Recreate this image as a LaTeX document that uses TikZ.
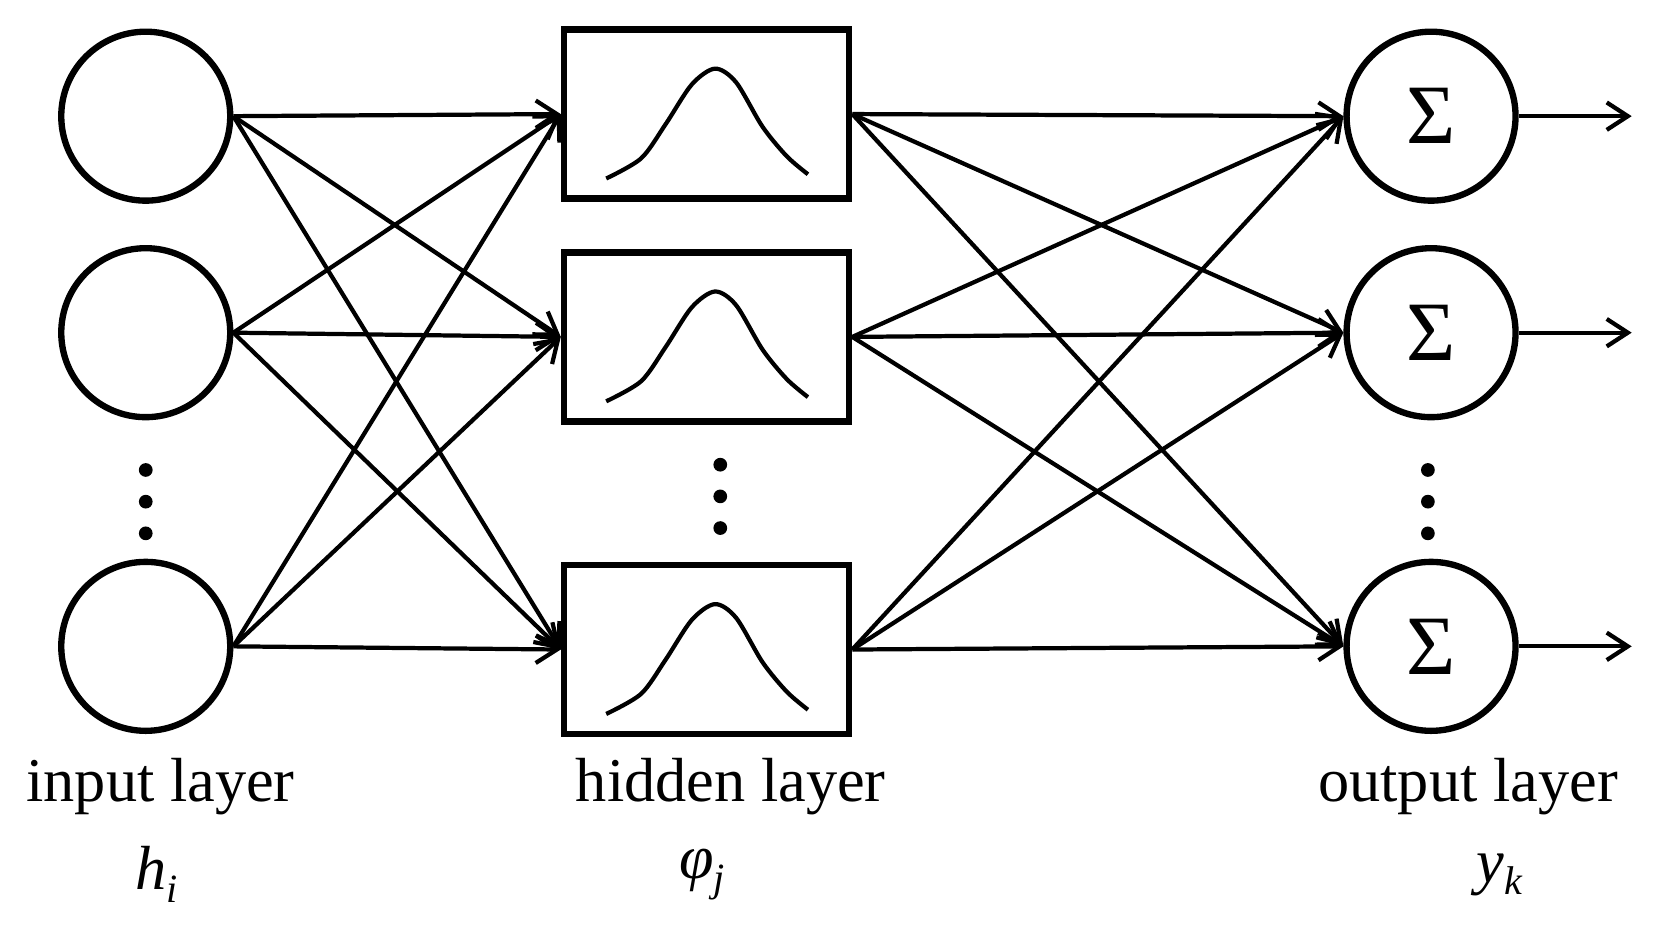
\documentclass[tikz,border=0pt]{standalone}
\usepackage{fontspec}
\setmainfont{Liberation Serif}
\usetikzlibrary{arrows.meta}
\newcommand{\mysub}[2]{{\itshape #1}\raisebox{-12pt}{\fontsize{38}{40}\selectfont\itshape #2}}
\begin{document}
\begin{tikzpicture}[x=1pt,y=-1pt,line width=6pt,
  inp/.style={circle,draw,minimum size=160pt,inner sep=0pt},
  hid/.style={draw,minimum width=270pt,minimum height=160pt,inner sep=0pt},
  con/.style={line width=4pt,-{Straight Barb[length=20pt,width=26pt,line width=4pt]}},
  lbl/.style={font=\fontsize{59}{66}\selectfont},
  dot/.style={circle,fill,inner sep=0pt,minimum size=13pt}]
\useasboundingbox (0,0) rectangle (1568,880);
\foreach \n/\y in {1/110,2/315,3/612}{
  \node[inp] (i\n) at (138,\y) {};
  \node[inp] (o\n) at (1355,\y) {\fontsize{80}{80}\selectfont Σ};
  \coordinate (e\n) at (1545,\y);
  \draw[con] (o\n.east) -- (e\n);
}
\foreach \n/\y in {1/108,2/319,3/615}{
  \node[hid] (h\n) at (669,\y) {};
  \draw[line width=4pt,line join=round] plot[smooth] coordinates {
    ([shift={(-95,61)}]h\n.center) ([shift={(-62,42)}]h\n.center)
    ([shift={(-39,10)}]h\n.center) ([shift={(-14,-28)}]h\n.center)
    ([shift={(8,-43)}]h\n.center) ([shift={(28,-30)}]h\n.center)
    ([shift={(53,12)}]h\n.center) ([shift={(76,40)}]h\n.center)
    ([shift={(96,57)}]h\n.center)};
}
\foreach \a in {1,2,3}{\foreach \b in {1,2,3}{
  \draw[con] (i\a.east) -- (h\b.west);
  \draw[con] (h\a.east) -- (o\b.west);
}}
\foreach \y [count=\k] in {445,475,505}{
  \node[dot] (di\k) at (138,\y) {};
  \node[dot] (dh\k) at (682,\y-5) {};
  \node[dot] (do\k) at (1352,\y) {};
}
\node[lbl] (l1) at (152,745) {input layer};
\node[lbl] (l2) at (692,745) {hidden layer};
\node[lbl] (l3) at (1390,745) {output layer};
\node[lbl] (s1) at (148,828) {\mysub{h}{i}};
\node[lbl] (s2) at (665,828) {\mysub{φ}{j}};
\node[lbl] (s3) at (1420,828) {\mysub{y}{k}};
\end{tikzpicture}
\end{document}
